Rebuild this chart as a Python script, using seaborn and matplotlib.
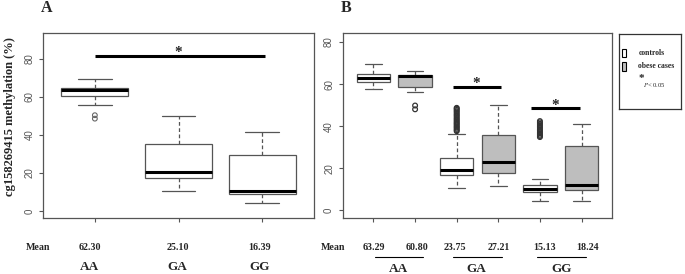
import numpy as np
import pandas as pd
import seaborn as sns
import matplotlib.pyplot as plt
import matplotlib.transforms as mtransforms
from matplotlib.patches import Rectangle

# ---------------------------------------------------------------
# Data (box summaries: whisker low, Q1, median, Q3, whisker high)
# ---------------------------------------------------------------
# Panel A: genotype only
geno_a = ["AA", "GA", "GG"]
a_low = [56.0, 10.5, 4.2]
a_q1 = [60.5, 17.2, 8.9]
a_med = [63.5, 20.4, 10.7]
a_q3 = [64.6, 35.4, 29.3]
a_high = [69.6, 50.2, 41.7]
a_out_geno = ["AA", "AA"]
a_out_val = [48.6, 50.4]
mean_a = ["62.30", "25.10", "16.39"]

# Panel B: genotype x group
box_b = ["AA controls", "AA obese", "GA controls", "GA obese", "GG controls", "GG obese"]
group_b = ["controls", "obese cases"] * 3
b_low = [57.6, 56.4, 10.4, 11.7, 4.5, 4.5]
b_q1 = [61.0, 58.6, 16.9, 17.9, 8.5, 9.4]
b_med = [63.1, 64.0, 19.0, 23.0, 10.1, 11.8]
b_q3 = [65.0, 64.5, 24.8, 35.9, 11.8, 30.7]
b_high = [69.6, 66.1, 36.4, 50.1, 14.9, 41.2]
b_out_aa_obese = [48.0, 49.8]
b_out_ga_ctrl = [37.6, 38.1, 38.7, 39.3, 39.8, 40.4, 41.0, 41.5, 42.1, 42.7,
                 43.3, 43.9, 44.6, 45.2, 45.8, 46.5, 47.1, 47.7, 48.3, 48.7]
b_out_gg_ctrl = [34.8, 35.3, 35.9, 36.6, 37.2, 37.9, 38.5, 39.2, 39.8, 40.5,
                 41.1, 41.8, 42.4]
mean_b = ["63.29", "60.80", "23.75", "27.21", "15.13", "18.24"]
geno_b = ["AA", "GA", "GG"]

# ---------------------------------------------------------------
sns.set_theme(style="white")
plt.rcParams["mathtext.fontset"] = "stix"

SERIF = "Liberation Serif"
EDGE = "#555555"
GREY = "#bebebe"
W, H = 685, 274


def px(l, t, r, b):
    return [l / W, 1 - b / H, (r - l) / W, (b - t) / H]


def fy(y):
    return 1 - y / H


# long tables for seaborn
rows = []
for g, *vals in zip(geno_a, a_low, a_q1, a_med, a_q3, a_high):
    for v in vals:
        rows.append((g, v))
df_a = pd.DataFrame(rows, columns=["genotype", "value"])
df_a_out = pd.DataFrame({"genotype": a_out_geno, "value": a_out_val})

rows = []
for b, grp, *vals in zip(box_b, group_b, b_low, b_q1, b_med, b_q3, b_high):
    for v in vals:
        rows.append((b, grp, v))
df_b = pd.DataFrame(rows, columns=["box", "group", "value"])
df_b_out = pd.DataFrame({
    "box": ["AA obese"] * len(b_out_aa_obese) + ["GA controls"] * len(b_out_ga_ctrl)
           + ["GG controls"] * len(b_out_gg_ctrl),
    "value": b_out_aa_obese + b_out_ga_ctrl + b_out_gg_ctrl,
})

fig = plt.figure(figsize=(6.85, 2.74), dpi=100)
fig.patch.set_facecolor("white")
axA = fig.add_axes(px(43, 33, 314, 218))
axB = fig.add_axes(px(342.7, 33, 612.3, 218))

box_kws = dict(width=0.8, whis=(0, 100), linewidth=0.9, linecolor=EDGE,
               showfliers=False, saturation=1,
               medianprops=dict(color="black", linewidth=2.2),
               whiskerprops=dict(linestyle=(0, (3, 2))))

sns.boxplot(data=df_a, x="genotype", y="value", order=geno_a, color="white",
            ax=axA, **box_kws)
sns.stripplot(data=df_a_out, x="genotype", y="value", order=geno_a, jitter=False,
              ax=axA, size=3.4, marker="o", facecolor="none", edgecolor="#666666",
              linewidth=0.8)

sns.boxplot(data=df_b, x="box", y="value", hue="group", order=box_b,
            hue_order=["controls", "obese cases"],
            palette={"controls": "white", "obese cases": GREY},
            dodge=False, legend=False, ax=axB, **box_kws)
sns.stripplot(data=df_b_out, x="box", y="value", order=box_b, jitter=False,
              ax=axB, size=3.4, marker="o", facecolor="none", edgecolor="#333333",
              linewidth=0.9)

axA.set_xlim(-0.62, 2.62)
axA.set_ylim(-3.6, 93.6)
axB.set_xlim(-0.74, 5.74)
axB.set_ylim(-3.7, 84.3)

for ax in (axA, axB):
    ax.set_xlabel("")
    ax.set_ylabel("")
    ax.set_xticklabels([])
    ax.set_yticks([0, 20, 40, 60, 80])
    ax.set_yticklabels(["0", "20", "40", "60", "80"], rotation=90, va="center",
                       fontsize=7, color="#555555", family="Liberation Sans")
    ax.tick_params(axis="both", which="both", length=3.2, width=0.8, color="#555555",
                   left=True, bottom=True, direction="out", pad=3)
    for s in ax.spines.values():
        s.set_visible(True)
        s.set_color("#555555")
        s.set_linewidth(0.9)

# significance bars
sig_kws = dict(color="black", lw=2.2, solid_capstyle="butt", zorder=5)
star_kws = dict(ha="center", va="bottom", fontsize=11, family=SERIF, fontweight="bold")
axA.plot([0.0, 2.04], [81.5, 81.5], **sig_kws)
axA.text(1.0, 79.8, "*", **star_kws)
axB.plot([1.91, 3.07], [58.8, 58.8], **sig_kws)
axB.text(2.48, 57.3, "*", **star_kws)
axB.plot([3.78, 4.96], [48.4, 48.4], **sig_kws)
axB.text(4.36, 46.9, "*", **star_kws)

# text under the panels
bold = dict(family=SERIF, fontweight="bold", ha="center", va="center")
tA = mtransforms.blended_transform_factory(axA.transData, fig.transFigure)
tB = mtransforms.blended_transform_factory(axB.transData, fig.transFigure)

fig.text(38 / W, fy(247.7), "Mean", fontsize=7.2, **bold)
for xpos, m, g in zip([-0.06, 0.99, 1.97], mean_a, geno_a):
    axA.text(xpos, fy(247.7), m, transform=tA, fontsize=7.2, **bold)
    axA.text(xpos, fy(267), g, transform=tA, fontsize=9.5, **bold)

fig.text(333.3 / W, fy(247.5), "Mean", fontsize=7.2, **bold)
for xpos, m in zip([0.0, 1.04, 1.96, 3.02, 4.1, 5.15], mean_b):
    axB.text(xpos, fy(247.5), m, transform=tB, fontsize=7.2, **bold)
for (x0, x1), xg, g in zip([(0.04, 1.2), (1.9, 3.08), (3.94, 5.11)],
                           [0.61, 2.48, 4.52], geno_b):
    axB.plot([x0, x1], [fy(257.3), fy(257.3)], transform=tB, color="black",
             lw=0.8, clip_on=False)
    axB.text(xg, fy(269.5), g, transform=tB, fontsize=9.5, **bold)

# panel letters and y label
fig.text(47 / W, fy(8.5), "A", fontsize=11.5, **bold)
fig.text(345.8 / W, fy(8.5), "B", fontsize=11.5, **bold)
fig.text(10 / W, fy(117), "cg158269415 methylation (%)", rotation=90,
         fontsize=9, **bold)

# legend box
axL = fig.add_axes(px(619.3, 34, 681, 109))
axL.set_xlim(619.3, 681)
axL.set_ylim(109, 34)
axL.set_xticks([])
axL.set_yticks([])
for s in axL.spines.values():
    s.set_color("#333333")
    s.set_linewidth(0.9)
axL.add_patch(Rectangle((621.7, 49), 4, 7.7, facecolor="white", edgecolor="black", lw=0.8))
axL.add_patch(Rectangle((621.7, 62.3), 4, 8.7, facecolor=GREY, edgecolor="black", lw=0.8))
axL.text(639, 53.3, "controls", fontsize=5.5, family=SERIF, fontweight="bold",
         ha="left", va="center")
axL.text(638.5, 66, "obese cases", fontsize=5.5, family=SERIF, fontweight="bold",
         ha="left", va="center")
axL.text(641.7, 79.0, "*", fontsize=8, family=SERIF, fontweight="bold",
         ha="center", va="center")
axL.text(642.7, 85.0, r"$P$< 0.05", fontsize=4.8, family=SERIF,
         ha="left", va="center")

fig.savefig("out.png", dpi=100)
